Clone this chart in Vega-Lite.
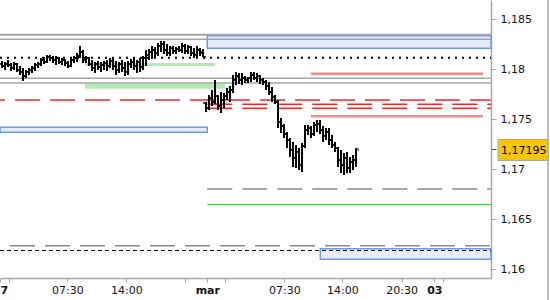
{
  "$schema": "https://vega.github.io/schema/vega-lite/v6.json",
  "width": 491,
  "height": 278,
  "autosize": {"type": "none"},
  "padding": {"left": 0, "top": 0, "right": 59, "bottom": 22},
  "background": "white",
  "config": {
    "view": {"stroke": null},
    "font": "DejaVu Sans",
    "locale": {"number": {"decimal": ",", "thousands": ".", "grouping": [3], "currency": ["", " €"]}},
    "axis": {
      "title": null, "grid": false,
      "labelFont": "DejaVu Sans", "labelFontSize": 11, "labelColor": "#111111",
      "tickColor": "#a8a8a8", "domainColor": "#a8a8a8", "domainWidth": 1.5
    }
  },
  "datasets": {
    "zones": [
      {"kind": "green", "from": 27.67, "to": 71, "top": 1.1806, "bottom": 1.1803},
      {"kind": "green", "from": 27.67, "to": 74.33, "top": 1.17853, "bottom": 1.17803},
      {"kind": "blue", "from": 68.43, "to": 163, "top": 1.18333, "bottom": 1.18207},
      {"kind": "blue", "from": -0.6667, "to": 68.43, "top": 1.17417, "bottom": 1.17367},
      {"kind": "blue", "from": 106.1, "to": 163, "top": 1.16203, "bottom": 1.16097}
    ],
    "lines": [
      {"kind": "grayThick", "from": -0.6667, "to": 163, "price": 1.18343},
      {"kind": "gray", "from": -0.6667, "to": 163, "price": 1.18297},
      {"kind": "gray", "from": -0.6667, "to": 163, "price": 1.17907},
      {"kind": "gray", "from": -0.6667, "to": 163, "price": 1.1786},
      {"kind": "dotted", "from": -0.6667, "to": 163, "price": 1.18113},
      {"kind": "redFull", "from": -0.6667, "to": 163, "price": 1.1769},
      {"kind": "redDash", "from": 68.43, "to": 163, "price": 1.17647},
      {"kind": "redDash", "from": 68.43, "to": 163, "price": 1.17607},
      {"kind": "salmon", "from": 103, "to": 160.33, "price": 1.17953},
      {"kind": "salmon", "from": 103, "to": 160.33, "price": 1.17527},
      {"kind": "grayDash", "from": 68.43, "to": 163, "price": 1.168},
      {"kind": "grayDash", "from": 2.67, "to": 163, "price": 1.16233},
      {"kind": "green", "from": 68.43, "to": 163, "price": 1.16645},
      {"kind": "blackDash", "from": -0.6667, "to": 163, "price": 1.16185}
    ],
    "last": [{"price": 1.17195}],
    "bars": [
      {"i":0,"o":1.1805,"h":1.1808,"l":1.1801,"c":1.1803},
      {"i":1,"o":1.1803,"h":1.1807,"l":1.1799,"c":1.1805},
      {"i":2,"o":1.1805,"h":1.1809,"l":1.1802,"c":1.1804},
      {"i":3,"o":1.1804,"h":1.1806,"l":1.1798,"c":1.1801},
      {"i":4,"o":1.1801,"h":1.1807,"l":1.1799,"c":1.1805},
      {"i":5,"o":1.1805,"h":1.1806,"l":1.1797,"c":1.1799},
      {"i":6,"o":1.1799,"h":1.1803,"l":1.1794,"c":1.1797},
      {"i":7,"o":1.1797,"h":1.1801,"l":1.1788,"c":1.1793},
      {"i":8,"o":1.1793,"h":1.1799,"l":1.1791,"c":1.1797},
      {"i":9,"o":1.1797,"h":1.1801,"l":1.1794,"c":1.1799},
      {"i":10,"o":1.1799,"h":1.1803,"l":1.1796,"c":1.1801},
      {"i":11,"o":1.1801,"h":1.1806,"l":1.1798,"c":1.1804},
      {"i":12,"o":1.1804,"h":1.1807,"l":1.1801,"c":1.1805},
      {"i":13,"o":1.1805,"h":1.1811,"l":1.1803,"c":1.1809},
      {"i":14,"o":1.1809,"h":1.1812,"l":1.1805,"c":1.1807},
      {"i":15,"o":1.1807,"h":1.1814,"l":1.1806,"c":1.1812},
      {"i":16,"o":1.1812,"h":1.1814,"l":1.1808,"c":1.1811},
      {"i":17,"o":1.1811,"h":1.1813,"l":1.1806,"c":1.1809},
      {"i":18,"o":1.1809,"h":1.1813,"l":1.1804,"c":1.1811},
      {"i":19,"o":1.1811,"h":1.1812,"l":1.1805,"c":1.1807},
      {"i":20,"o":1.1807,"h":1.1811,"l":1.1804,"c":1.1809},
      {"i":21,"o":1.1809,"h":1.181,"l":1.1803,"c":1.1806},
      {"i":22,"o":1.1806,"h":1.1808,"l":1.1801,"c":1.1803},
      {"i":23,"o":1.1803,"h":1.1811,"l":1.1802,"c":1.1809},
      {"i":24,"o":1.1809,"h":1.1813,"l":1.1806,"c":1.1811},
      {"i":25,"o":1.1811,"h":1.1816,"l":1.1807,"c":1.1813},
      {"i":26,"o":1.1813,"h":1.1823,"l":1.1811,"c":1.1817},
      {"i":27,"o":1.1817,"h":1.1819,"l":1.1806,"c":1.1809},
      {"i":28,"o":1.1809,"h":1.1813,"l":1.1806,"c":1.1811},
      {"i":29,"o":1.1811,"h":1.1812,"l":1.1803,"c":1.1805},
      {"i":30,"o":1.1805,"h":1.1809,"l":1.1798,"c":1.1801},
      {"i":31,"o":1.1801,"h":1.1807,"l":1.1796,"c":1.1805},
      {"i":32,"o":1.1805,"h":1.1808,"l":1.1799,"c":1.1802},
      {"i":33,"o":1.1802,"h":1.1807,"l":1.1797,"c":1.1804},
      {"i":34,"o":1.1804,"h":1.1808,"l":1.1799,"c":1.1806},
      {"i":35,"o":1.1806,"h":1.1809,"l":1.1798,"c":1.1803},
      {"i":36,"o":1.1803,"h":1.1811,"l":1.1801,"c":1.1808},
      {"i":37,"o":1.1808,"h":1.1811,"l":1.1799,"c":1.1803},
      {"i":38,"o":1.1803,"h":1.1808,"l":1.1794,"c":1.1799},
      {"i":39,"o":1.1799,"h":1.1807,"l":1.1796,"c":1.1805},
      {"i":40,"o":1.1805,"h":1.1809,"l":1.1797,"c":1.1801},
      {"i":41,"o":1.1801,"h":1.1807,"l":1.1793,"c":1.1797},
      {"i":42,"o":1.1797,"h":1.1808,"l":1.1794,"c":1.1805},
      {"i":43,"o":1.1805,"h":1.181,"l":1.1801,"c":1.1807},
      {"i":44,"o":1.1807,"h":1.1811,"l":1.1799,"c":1.1803},
      {"i":45,"o":1.1803,"h":1.1809,"l":1.1796,"c":1.1807},
      {"i":46,"o":1.1807,"h":1.1811,"l":1.1797,"c":1.1802},
      {"i":47,"o":1.1802,"h":1.1813,"l":1.1799,"c":1.1811},
      {"i":48,"o":1.1811,"h":1.1819,"l":1.1803,"c":1.1814},
      {"i":49,"o":1.1814,"h":1.182,"l":1.1809,"c":1.1817},
      {"i":50,"o":1.1817,"h":1.1823,"l":1.181,"c":1.1819},
      {"i":51,"o":1.1819,"h":1.1822,"l":1.1812,"c":1.1816},
      {"i":52,"o":1.1816,"h":1.1826,"l":1.1813,"c":1.1823},
      {"i":53,"o":1.1823,"h":1.1828,"l":1.1817,"c":1.1825},
      {"i":54,"o":1.1825,"h":1.1828,"l":1.1815,"c":1.1819},
      {"i":55,"o":1.1819,"h":1.1825,"l":1.1813,"c":1.1816},
      {"i":56,"o":1.1816,"h":1.1823,"l":1.1813,"c":1.1821},
      {"i":57,"o":1.1821,"h":1.1823,"l":1.1815,"c":1.1818},
      {"i":58,"o":1.1818,"h":1.1822,"l":1.1815,"c":1.182},
      {"i":59,"o":1.182,"h":1.1823,"l":1.1817,"c":1.1819},
      {"i":60,"o":1.1819,"h":1.1826,"l":1.1816,"c":1.1823},
      {"i":61,"o":1.1823,"h":1.1825,"l":1.1815,"c":1.1818},
      {"i":62,"o":1.1818,"h":1.1824,"l":1.1815,"c":1.1822},
      {"i":63,"o":1.1822,"h":1.1823,"l":1.1813,"c":1.1816},
      {"i":64,"o":1.1816,"h":1.1821,"l":1.1811,"c":1.1814},
      {"i":65,"o":1.1814,"h":1.1823,"l":1.1812,"c":1.1819},
      {"i":66,"o":1.1819,"h":1.1821,"l":1.1813,"c":1.1816},
      {"i":67,"o":1.1817,"h":1.182,"l":1.1812,"c":1.1812},
      {"i":68,"o":1.1766,"h":1.1767,"l":1.1757,"c":1.1761},
      {"i":69,"o":1.1761,"h":1.1774,"l":1.1759,"c":1.1771},
      {"i":70,"o":1.1771,"h":1.1779,"l":1.1763,"c":1.1767},
      {"i":71,"o":1.1767,"h":1.1789,"l":1.1765,"c":1.1773},
      {"i":72,"o":1.1773,"h":1.1774,"l":1.1759,"c":1.1763},
      {"i":73,"o":1.1763,"h":1.1777,"l":1.1756,"c":1.1769},
      {"i":74,"o":1.1769,"h":1.1776,"l":1.1761,"c":1.1773},
      {"i":75,"o":1.1773,"h":1.1781,"l":1.1769,"c":1.1777},
      {"i":76,"o":1.1777,"h":1.1783,"l":1.1767,"c":1.1779},
      {"i":77,"o":1.1779,"h":1.1794,"l":1.1776,"c":1.1789},
      {"i":78,"o":1.1789,"h":1.1797,"l":1.1784,"c":1.1793},
      {"i":79,"o":1.1793,"h":1.1796,"l":1.1785,"c":1.1789},
      {"i":80,"o":1.1789,"h":1.1796,"l":1.1784,"c":1.1791},
      {"i":81,"o":1.1791,"h":1.1793,"l":1.1786,"c":1.1789},
      {"i":82,"o":1.1789,"h":1.1792,"l":1.1786,"c":1.1791},
      {"i":83,"o":1.1791,"h":1.1797,"l":1.1787,"c":1.1794},
      {"i":84,"o":1.1794,"h":1.1797,"l":1.1789,"c":1.1791},
      {"i":85,"o":1.1791,"h":1.1796,"l":1.1787,"c":1.1793},
      {"i":86,"o":1.1793,"h":1.1794,"l":1.1785,"c":1.1789},
      {"i":87,"o":1.1789,"h":1.1791,"l":1.1784,"c":1.1787},
      {"i":88,"o":1.1787,"h":1.1789,"l":1.1779,"c":1.1783},
      {"i":89,"o":1.1783,"h":1.1787,"l":1.1774,"c":1.1777},
      {"i":90,"o":1.1777,"h":1.1782,"l":1.1767,"c":1.1772},
      {"i":91,"o":1.1772,"h":1.1774,"l":1.1765,"c":1.1767},
      {"i":92,"o":1.1767,"h":1.1769,"l":1.1741,"c":1.1747},
      {"i":93,"o":1.1747,"h":1.1751,"l":1.1736,"c":1.1743},
      {"i":94,"o":1.1743,"h":1.1745,"l":1.1731,"c":1.1735},
      {"i":95,"o":1.1735,"h":1.1737,"l":1.1721,"c":1.1729},
      {"i":96,"o":1.1729,"h":1.1731,"l":1.1712,"c":1.1719},
      {"i":97,"o":1.1719,"h":1.1727,"l":1.1702,"c":1.1711},
      {"i":98,"o":1.1711,"h":1.1724,"l":1.1701,"c":1.1717},
      {"i":99,"o":1.1717,"h":1.1721,"l":1.1699,"c":1.1704},
      {"i":100,"o":1.1704,"h":1.1726,"l":1.1697,"c":1.1723},
      {"i":101,"o":1.1723,"h":1.1744,"l":1.1721,"c":1.1739},
      {"i":102,"o":1.1739,"h":1.1744,"l":1.1734,"c":1.1741},
      {"i":103,"o":1.1741,"h":1.1743,"l":1.1731,"c":1.1735},
      {"i":104,"o":1.1735,"h":1.1747,"l":1.1733,"c":1.1744},
      {"i":105,"o":1.1744,"h":1.1749,"l":1.1737,"c":1.1745},
      {"i":106,"o":1.1745,"h":1.1749,"l":1.1735,"c":1.1739},
      {"i":107,"o":1.1739,"h":1.1743,"l":1.1727,"c":1.1733},
      {"i":108,"o":1.1733,"h":1.1741,"l":1.1729,"c":1.1737},
      {"i":109,"o":1.1737,"h":1.1741,"l":1.1724,"c":1.1729},
      {"i":110,"o":1.1729,"h":1.1734,"l":1.1721,"c":1.1724},
      {"i":111,"o":1.1724,"h":1.1727,"l":1.1717,"c":1.1721},
      {"i":112,"o":1.1721,"h":1.1722,"l":1.1702,"c":1.1709},
      {"i":113,"o":1.1709,"h":1.1719,"l":1.1696,"c":1.1704},
      {"i":114,"o":1.1704,"h":1.1716,"l":1.1694,"c":1.1711},
      {"i":115,"o":1.1711,"h":1.1717,"l":1.1696,"c":1.1701},
      {"i":116,"o":1.1701,"h":1.1712,"l":1.1696,"c":1.1707},
      {"i":117,"o":1.1707,"h":1.1714,"l":1.1699,"c":1.1709},
      {"i":118,"o":1.1709,"h":1.1721,"l":1.1702,"c":1.17195}
    ]
  },
  "layer": [
    {
      "data": {"name": "zones"},
      "transform": [{"filter": "datum.kind == 'green'"}],
      "mark": {"type": "rect", "fill": "#b3eab3"},
      "encoding": {
        "x": {"field": "from", "type": "quantitative", "title": null,
          "scale": {"domain": [-0.6667, 163], "nice": false, "zero": false},
          "axis": {
            "values": [-0.6667, 2.43, 21.77, 41.43, 61.1, 68.43, 74.43, 94.1, 113.43, 133.23, 144.1, 146.9],
            "labelExpr": "datum.value < 0 ? '7' : datum.value < 3 ? '' : datum.value < 22 ? '07:30' : datum.value < 42 ? '14:00' : datum.value < 62 ? '' : datum.value < 69 ? 'mar' : datum.value < 75 ? '' : datum.value < 95 ? '07:30' : datum.value < 114 ? '14:00' : datum.value < 134 ? '20:30' : datum.value < 145 ? '03' : ''",
            "labelFontWeight": {"condition": {"test": "datum.value < 0 || (datum.value > 68 && datum.value < 69) || (datum.value > 144 && datum.value < 145)", "value": "bold"}, "value": "normal"},
            "labelAlign": {"condition": {"test": "datum.value < 0", "value": "left"}, "value": "center"},
            "labelOverlap": false, "labelFlush": false, "labelBound": false,
            "labelPadding": 2, "tickSize": 4
          }
        },
        "x2": {"field": "to"},
        "y": {"field": "top", "type": "quantitative", "title": null,
          "scale": {"domain": [1.1591, 1.1869], "nice": false, "zero": false},
          "axis": {
            "orient": "right",
            "values": [1.16, 1.165, 1.17, 1.175, 1.18, 1.185],
            "format": ".3~f",
            "labelPadding": 4, "tickSize": 5
          }
        },
        "y2": {"field": "bottom"}
      }
    },
    {
      "data": {"name": "zones"},
      "transform": [{"filter": "datum.kind == 'blue'"}],
      "mark": {"type": "rect", "fill": "#e6ecfc", "stroke": "#6d9be6", "strokeWidth": 1.5},
      "encoding": {
        "x": {"field": "from", "type": "quantitative", "title": null},
        "x2": {"field": "to"},
        "y": {"field": "top", "type": "quantitative", "title": null},
        "y2": {"field": "bottom"}
      }
    },
    {
      "data": {"name": "lines"},
      "transform": [{"filter": "datum.kind == 'grayThick'"}],
      "mark": {"type": "rule", "color": "#a6a6a6", "strokeWidth": 2},
      "encoding": {
        "x": {"field": "from", "type": "quantitative", "title": null},
        "x2": {"field": "to"},
        "y": {"field": "price", "type": "quantitative", "title": null}
      }
    },
    {
      "data": {"name": "lines"},
      "transform": [{"filter": "datum.kind == 'gray'"}],
      "mark": {"type": "rule", "color": "#a6a6a6", "strokeWidth": 1.5},
      "encoding": {
        "x": {"field": "from", "type": "quantitative", "title": null},
        "x2": {"field": "to"},
        "y": {"field": "price", "type": "quantitative", "title": null}
      }
    },
    {
      "data": {"name": "lines"},
      "transform": [{"filter": "datum.kind == 'dotted'"}],
      "mark": {"type": "rule", "color": "#000000", "strokeWidth": 2, "strokeDash": [2, 5]},
      "encoding": {
        "x": {"field": "from", "type": "quantitative", "title": null},
        "x2": {"field": "to"},
        "y": {"field": "price", "type": "quantitative", "title": null}
      }
    },
    {
      "data": {"name": "lines"},
      "transform": [{"filter": "datum.kind == 'redFull'"}],
      "mark": {"type": "rule", "color": "#ec2a2a", "strokeWidth": 1.5, "strokeDash": [25, 10], "strokeDashOffset": 20},
      "encoding": {
        "x": {"field": "from", "type": "quantitative", "title": null},
        "x2": {"field": "to"},
        "y": {"field": "price", "type": "quantitative", "title": null}
      }
    },
    {
      "data": {"name": "lines"},
      "transform": [{"filter": "datum.kind == 'redDash'"}],
      "mark": {"type": "rule", "color": "#ec2a2a", "strokeWidth": 1.5, "strokeDash": [25, 10]},
      "encoding": {
        "x": {"field": "from", "type": "quantitative", "title": null},
        "x2": {"field": "to"},
        "y": {"field": "price", "type": "quantitative", "title": null}
      }
    },
    {
      "data": {"name": "lines"},
      "transform": [{"filter": "datum.kind == 'salmon'"}],
      "mark": {"type": "rule", "color": "#f28c8c", "strokeWidth": 2.5},
      "encoding": {
        "x": {"field": "from", "type": "quantitative", "title": null},
        "x2": {"field": "to"},
        "y": {"field": "price", "type": "quantitative", "title": null}
      }
    },
    {
      "data": {"name": "lines"},
      "transform": [{"filter": "datum.kind == 'grayDash'"}],
      "mark": {"type": "rule", "color": "#8a8a8a", "strokeWidth": 1.5, "strokeDash": [25, 10]},
      "encoding": {
        "x": {"field": "from", "type": "quantitative", "title": null},
        "x2": {"field": "to"},
        "y": {"field": "price", "type": "quantitative", "title": null}
      }
    },
    {
      "data": {"name": "lines"},
      "transform": [{"filter": "datum.kind == 'green'"}],
      "mark": {"type": "rule", "color": "#44c844", "strokeWidth": 1},
      "encoding": {
        "x": {"field": "from", "type": "quantitative", "title": null},
        "x2": {"field": "to"},
        "y": {"field": "price", "type": "quantitative", "title": null}
      }
    },
    {
      "data": {"name": "lines"},
      "transform": [{"filter": "datum.kind == 'blackDash'"}],
      "mark": {"type": "rule", "color": "#000000", "strokeWidth": 1, "strokeDash": [4, 3]},
      "encoding": {
        "x": {"field": "from", "type": "quantitative", "title": null},
        "x2": {"field": "to"},
        "y": {"field": "price", "type": "quantitative", "title": null}
      }
    },
    {
      "data": {"name": "bars"},
      "mark": {"type": "rule", "color": "#000000", "strokeWidth": 2},
      "encoding": {
        "x": {"field": "i", "type": "quantitative", "title": null},
        "y": {"field": "l", "type": "quantitative", "title": null},
        "y2": {"field": "h"}
      }
    },
    {
      "data": {"name": "bars"},
      "mark": {"type": "tick", "orient": "horizontal", "color": "#000000", "size": 2.5, "thickness": 2, "xOffset": -1.75},
      "encoding": {
        "x": {"field": "i", "type": "quantitative", "title": null},
        "y": {"field": "o", "type": "quantitative", "title": null}
      }
    },
    {
      "data": {"name": "bars"},
      "mark": {"type": "tick", "orient": "horizontal", "color": "#000000", "size": 2.5, "thickness": 2, "xOffset": 1.75},
      "encoding": {
        "x": {"field": "i", "type": "quantitative", "title": null},
        "y": {"field": "c", "type": "quantitative", "title": null}
      }
    },
    {
      "data": {"name": "last"},
      "mark": {"type": "rule", "color": "#a8a8a8", "strokeWidth": 1.5},
      "encoding": {
        "x": {"datum": 182, "type": "quantitative", "title": null},
        "y": {"datum": 1.1869, "type": "quantitative", "title": null},
        "y2": {"datum": 1.1569}
      }
    },
    {
      "data": {"name": "last"},
      "mark": {"type": "point", "shape": "M0.28,-0.4H2.28V0.44H0.28Z", "size": 2500, "filled": true, "fill": "#f7c600", "stroke": "#a8a8a8", "strokeWidth": 1, "opacity": 1},
      "encoding": {
        "x": {"datum": 163, "type": "quantitative", "title": null},
        "y": {"field": "price", "type": "quantitative", "title": null}
      }
    },
    {
      "data": {"name": "last"},
      "mark": {"type": "tick", "orient": "horizontal", "color": "#000000", "size": 5, "thickness": 1, "xOffset": 3},
      "encoding": {
        "x": {"datum": 163, "type": "quantitative", "title": null},
        "y": {"field": "price", "type": "quantitative", "title": null}
      }
    },
    {
      "data": {"name": "last"},
      "mark": {"type": "text", "align": "left", "baseline": "middle", "dx": 10, "dy": 1, "font": "DejaVu Sans", "fontSize": 11, "color": "#000000"},
      "encoding": {
        "x": {"datum": 163, "type": "quantitative", "title": null},
        "y": {"field": "price", "type": "quantitative", "title": null},
        "text": {"field": "price", "type": "quantitative", "format": ".5f"}
      }
    }
  ]
}
